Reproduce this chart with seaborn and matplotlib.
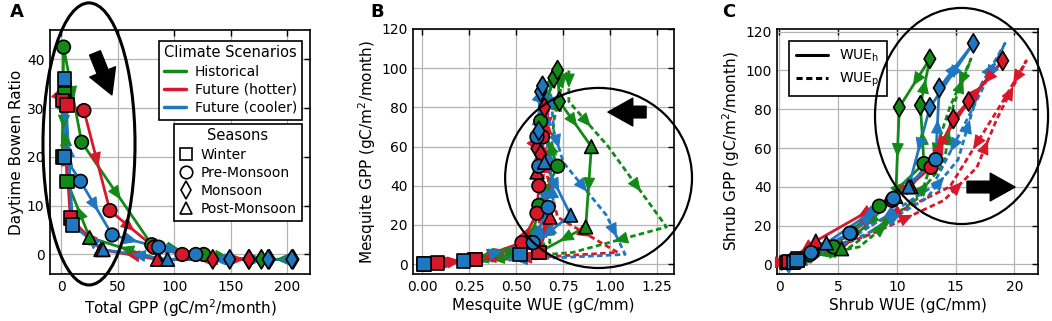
import numpy as np
import pandas as pd
import matplotlib
matplotlib.use("Agg")
import matplotlib.pyplot as plt
import seaborn as sns
from matplotlib.patches import Ellipse
from matplotlib.lines import Line2D

sns.set_theme(style="white")
plt.rcParams['font.family'] = ['DejaVu Sans']
plt.rcParams['text.color'] = 'black'
plt.rcParams['axes.labelcolor'] = 'black'
plt.rcParams['xtick.color'] = 'black'
plt.rcParams['ytick.color'] = 'black'

# ---------------- data ----------------
months = ['Jan', 'Feb', 'Mar', 'Apr', 'May', 'Jun', 'Jul', 'Aug', 'Sep', 'Oct', 'Nov', 'Dec']
seasons = ['Winter', 'Winter', 'Pre-Monsoon', 'Pre-Monsoon', 'Pre-Monsoon', 'Pre-Monsoon',
           'Monsoon', 'Monsoon', 'Monsoon', 'Post-Monsoon', 'Post-Monsoon', 'Winter']
scenarios = ['Historical', 'Future (hotter)', 'Future (cooler)']
season_names = ['Winter', 'Pre-Monsoon', 'Monsoon', 'Post-Monsoon']

# Panel A: total GPP vs daytime Bowen ratio
hist_gpp = [3, 1, 2, 18, 80, 126, 166, 205, 177, 86, 25, 5]
hist_bowen = [33, 20, 42.5, 23, 2, 0, -1, -1, -1, -1, 3.5, 15]
hot_gpp = [1, 5, 20, 43, 82, 107, 134, 184, 166, 85, 35, 8]
hot_bowen = [31.6, 30.6, 29.5, 9, 1.5, 0, -1, -1, -1, -1, 1, 7.5]
cool_gpp = [3, 3, 17, 45, 86, 119, 149, 204, 183, 94, 37, 10]
cool_bowen = [36, 20, 15, 4, 1.5, 0, -1, -1, -1, -1, 1, 6]

# Panel B: mesquite WUE (h: solid, p: dashed) vs mesquite GPP
hist_mgpp = [0, 2.5, 11, 30, 50, 73, 95, 99, 83, 60, 19, 6]
hist_mwue_h = [0.01, 0.28, 0.58, 0.62, 0.72, 0.63, 0.70, 0.72, 0.73, 0.90, 0.87, 0.62]
hist_mwue_p = [0.02, 0.30, 0.68, 0.66, 0.68, 0.70, 0.75, 0.78, 0.78, 0.99, 1.30, 0.80]
hot_mgpp = [0.5, 2.5, 11, 26, 40, 65, 80, 59, 56, 47, 24, 6]
hot_mwue_h = [0.08, 0.28, 0.53, 0.61, 0.62, 0.64, 0.65, 0.61, 0.63, 0.61, 0.68, 0.62]
hot_mwue_p = [0.09, 0.30, 0.58, 0.64, 0.64, 0.66, 0.67, 0.64, 0.66, 0.66, 0.72, 1.04]
cool_mgpp = [0, 1.5, 11, 29, 50, 65, 88, 91, 68, 52, 25, 5]
cool_mwue_h = [0.01, 0.22, 0.59, 0.67, 0.62, 0.61, 0.63, 0.64, 0.62, 0.65, 0.79, 0.52]
cool_mwue_p = [0.02, 0.23, 0.62, 0.70, 0.68, 0.66, 0.66, 0.68, 0.70, 0.75, 0.98, 1.08]

# Panel C: shrub WUE (h: solid, p: dashed) vs shrub GPP
hist_sgpp = [1, 1.5, 5, 9, 30, 52, 82, 106, 81, 35, 8, 2]
hist_swue_h = [1.0, 1.3, 2.6, 4.6, 8.5, 12.3, 12.0, 12.8, 10.2, 9.9, 5.3, 1.5]
hist_swue_p = [1.3, 1.8, 3.5, 6.8, 11.0, 14.0, 14.8, 16.3, 14.5, 12.0, 5.8, 1.8]
hot_sgpp = [1, 1, 6, 16, 33, 50, 75, 105, 84, 40, 12, 1.5]
hot_swue_h = [0.6, 1.0, 2.8, 6.1, 9.6, 12.9, 14.8, 19.0, 16.1, 11.2, 3.1, 0.8]
hot_swue_p = [0.9, 1.5, 3.5, 8.0, 14.0, 16.8, 18.5, 21.0, 19.0, 14.5, 5.0, 1.5]
cool_sgpp = [1, 3, 6, 16, 34, 54, 91, 114, 81, 40, 11, 2]
cool_swue_h = [1.2, 1.6, 2.7, 6.0, 9.7, 13.3, 13.6, 16.5, 12.8, 11.0, 4.0, 1.5]
cool_swue_p = [1.2, 2.0, 3.8, 7.5, 12.5, 15.2, 17.0, 19.2, 16.5, 13.0, 5.5, 1.8]

# ---------------- style ----------------
colors = {'Historical': '#138a17', 'Future (hotter)': '#d7182a', 'Future (cooler)': '#1f77c0'}
season_markers = {'Winter': 's', 'Pre-Monsoon': 'o', 'Monsoon': 'd', 'Post-Monsoon': '^'}
LW = 2.0
MS = 95

fig = plt.figure(figsize=(10.52, 3.21), dpi=100)
axA = fig.add_axes([50 / 1052, 1 - 274 / 321, 260 / 1052, 244 / 321])
axB = fig.add_axes([413 / 1052, 1 - 274 / 321, 261 / 1052, 245 / 321])
axC = fig.add_axes([777 / 1052, 1 - 274 / 321, 261 / 1052, 245 / 321])


def loop_df(x, y):
    df = pd.DataFrame({'x': list(x) + [x[0]], 'y': list(y) + [y[0]],
                       'order': range(len(x) + 1)})
    return df


def add_arrows(ax, x, y, color, closed=True):
    n = len(x)
    for i in range(n if closed else n - 1):
        j = (i + 1) % n
        x0, y0, x1, y1 = x[i], y[i], x[j], y[j]
        if x0 == x1 and y0 == y1:
            continue
        mx, my = (x0 + x1) / 2, (y0 + y1) / 2
        dx, dy = x1 - x0, y1 - y0
        ax.annotate('', xy=(mx + 0.06 * dx, my + 0.06 * dy),
                    xytext=(mx - 0.06 * dx, my - 0.06 * dy),
                    arrowprops=dict(arrowstyle='-|>,head_length=0.8,head_width=0.35',
                                    color=color, lw=0.8, shrinkA=0, shrinkB=0,
                                    mutation_scale=11),
                    zorder=4)


def draw_series(ax, x, y, color, dashed=False, markers=True):
    df = loop_df(x, y)
    sns.lineplot(data=df, x='x', y='y', sort=False, estimator=None, ax=ax,
                 color=color, lw=LW, linestyle=(0, (2, 1.2)) if dashed else '-',
                 legend=False, zorder=3)
    add_arrows(ax, x, y, color)
    if markers:
        pts = pd.DataFrame({'x': x, 'y': y, 'season': seasons})
        sns.scatterplot(data=pts, x='x', y='y', style='season', markers=season_markers,
                        style_order=season_names, color=color, edgecolor='black',
                        linewidth=1.2, s=MS, ax=ax, legend=False, zorder=5)


# Panel A
for xs, ys, sc in [(hist_gpp, hist_bowen, 'Historical'),
                   (hot_gpp, hot_bowen, 'Future (hotter)'),
                   (cool_gpp, cool_bowen, 'Future (cooler)')]:
    draw_series(axA, xs, ys, colors[sc])

# Panel B
for xs, ys, sc in [(hist_mwue_p, hist_mgpp, 'Historical'),
                   (hot_mwue_p, hot_mgpp, 'Future (hotter)'),
                   (cool_mwue_p, cool_mgpp, 'Future (cooler)')]:
    draw_series(axB, xs, ys, colors[sc], dashed=True, markers=False)
for xs, ys, sc in [(hist_mwue_h, hist_mgpp, 'Historical'),
                   (hot_mwue_h, hot_mgpp, 'Future (hotter)'),
                   (cool_mwue_h, cool_mgpp, 'Future (cooler)')]:
    draw_series(axB, xs, ys, colors[sc])

# Panel C
for xs, ys, sc in [(hist_swue_p, hist_sgpp, 'Historical'),
                   (hot_swue_p, hot_sgpp, 'Future (hotter)'),
                   (cool_swue_p, cool_sgpp, 'Future (cooler)')]:
    draw_series(axC, xs, ys, colors[sc], dashed=True, markers=False)
for xs, ys, sc in [(hist_swue_h, hist_sgpp, 'Historical'),
                   (hot_swue_h, hot_sgpp, 'Future (hotter)'),
                   (cool_swue_h, cool_sgpp, 'Future (cooler)')]:
    draw_series(axC, xs, ys, colors[sc])

# ---------------- axes formatting ----------------
axA.set_xlim(-10, 220)
axA.set_ylim(-4, 46)
axA.set_xticks([0, 50, 100, 150, 200])
axA.set_yticks([0, 10, 20, 30, 40])
axA.set_xlabel('Total GPP (gC/m$^2$/month)')
axA.set_ylabel('Daytime Bowen Ratio')

axB.set_xlim(-0.05, 1.34)
axB.set_ylim(-5, 120)
axB.set_xticks([0.0, 0.25, 0.5, 0.75, 1.0, 1.25])
axB.set_xticklabels(['0.00', '0.25', '0.50', '0.75', '1.00', '1.25'])
axB.set_yticks(range(0, 121, 20))
axB.set_xlabel('Mesquite WUE (gC/mm)')
axB.set_ylabel('Mesquite GPP (gC/m$^2$/month)')

axC.set_xlim(-0.2, 22)
axC.set_ylim(-5, 121.4)
axC.set_xticks([0, 5, 10, 15, 20])
axC.set_yticks(range(0, 121, 20))
axC.set_xlabel('Shrub WUE (gC/mm)')
axC.set_ylabel('Shrub GPP (gC/m$^2$/month)')

for ax in (axA, axB, axC):
    ax.grid(True, color='#b5b5b5', lw=0.9)
    ax.set_axisbelow(True)
    ax.tick_params(direction='in', top=True, right=True, length=4, width=1,
                   labelsize=10, color='black', labelcolor='black', pad=4)
    for sp in ax.spines.values():
        sp.set_color('black')
        sp.set_linewidth(1.2)
    ax.xaxis.label.set_size(11)
    ax.yaxis.label.set_size(11)
    ax.xaxis.labelpad = 3
    ax.yaxis.labelpad = 2

# ---------------- legends ----------------
clim_handles = [Line2D([], [], color=colors[s], lw=2.5) for s in scenarios]
legA1 = axA.legend(clim_handles, scenarios, title='Climate Scenarios', loc='upper right',
                   bbox_to_anchor=(0.995, 0.985), fontsize=10, title_fontsize=10.5,
                   frameon=True, fancybox=False, edgecolor='black', framealpha=1,
                   handlelength=1.6, handletextpad=0.6, borderpad=0.35, labelspacing=0.3)
legA1.get_frame().set_linewidth(1.2)
axA.add_artist(legA1)
seas_handles = [Line2D([], [], marker=season_markers[s], linestyle='none', markersize=9,
                       markerfacecolor='white', markeredgecolor='black', markeredgewidth=1.2)
                for s in season_names]
legA2 = axA.legend(seas_handles, season_names, title='Seasons', loc='upper right',
                   bbox_to_anchor=(0.995, 0.645), fontsize=10, title_fontsize=10.5,
                   frameon=True, fancybox=False, edgecolor='black', framealpha=1,
                   handlelength=1.0, handletextpad=0.6, borderpad=0.35, labelspacing=0.3)
legA2.get_frame().set_linewidth(1.2)

wue_handles = [Line2D([], [], color='black', lw=2.2, linestyle='-'),
               Line2D([], [], color='black', lw=2.2, linestyle=(0, (2, 1.2)))]
legC = axC.legend(wue_handles, ['WUE$_\\mathregular{h}$', 'WUE$_\\mathregular{p}$'],
                  loc='upper left', bbox_to_anchor=(0.02, 0.98), fontsize=10,
                  frameon=True, fancybox=False, edgecolor='black', framealpha=1,
                  handlelength=2.3, handletextpad=0.8, borderpad=0.5, labelspacing=0.5)
legC.get_frame().set_linewidth(1.2)

# ---------------- ellipses & arrows ----------------
axA.add_patch(Ellipse((0.15, 0.533), 0.354, 1.156, transform=axA.transAxes,
                      fill=False, ec='black', lw=2.2, clip_on=False, zorder=6))
axB.add_patch(Ellipse((0.711, 0.392), 0.716, 0.735, transform=axB.transAxes,
                      fill=False, ec='black', lw=1.6, clip_on=False, zorder=6))
axC.add_patch(Ellipse((0.707, 0.645), 0.663, 0.882, transform=axC.transAxes,
                      fill=False, ec='black', lw=1.6, clip_on=False, zorder=6))

arrow_style = dict(arrowstyle='simple,head_length=0.85,head_width=0.95,tail_width=0.4',
                   fc='black', ec='black', mutation_scale=21, shrinkA=0, shrinkB=0)
axA.annotate('', xy=(0.238, 0.734), xytext=(0.173, 0.906), xycoords='axes fraction',
             arrowprops=arrow_style, zorder=7)
axB.annotate('', xy=(0.747, 0.661), xytext=(0.893, 0.661), xycoords='axes fraction',
             arrowprops=arrow_style, zorder=7)
axC.annotate('', xy=(0.912, 0.355), xytext=(0.728, 0.355), xycoords='axes fraction',
             arrowprops=arrow_style, zorder=7)

# panel letters
fig.text(10 / 1052, 1 - 12 / 321, 'A', fontsize=13, fontweight='bold', va='center', color='black')
fig.text(370 / 1052, 1 - 12 / 321, 'B', fontsize=13, fontweight='bold', va='center', color='black')
fig.text(722 / 1052, 1 - 12 / 321, 'C', fontsize=13, fontweight='bold', va='center', color='black')

fig.savefig('out.png', dpi=100)
